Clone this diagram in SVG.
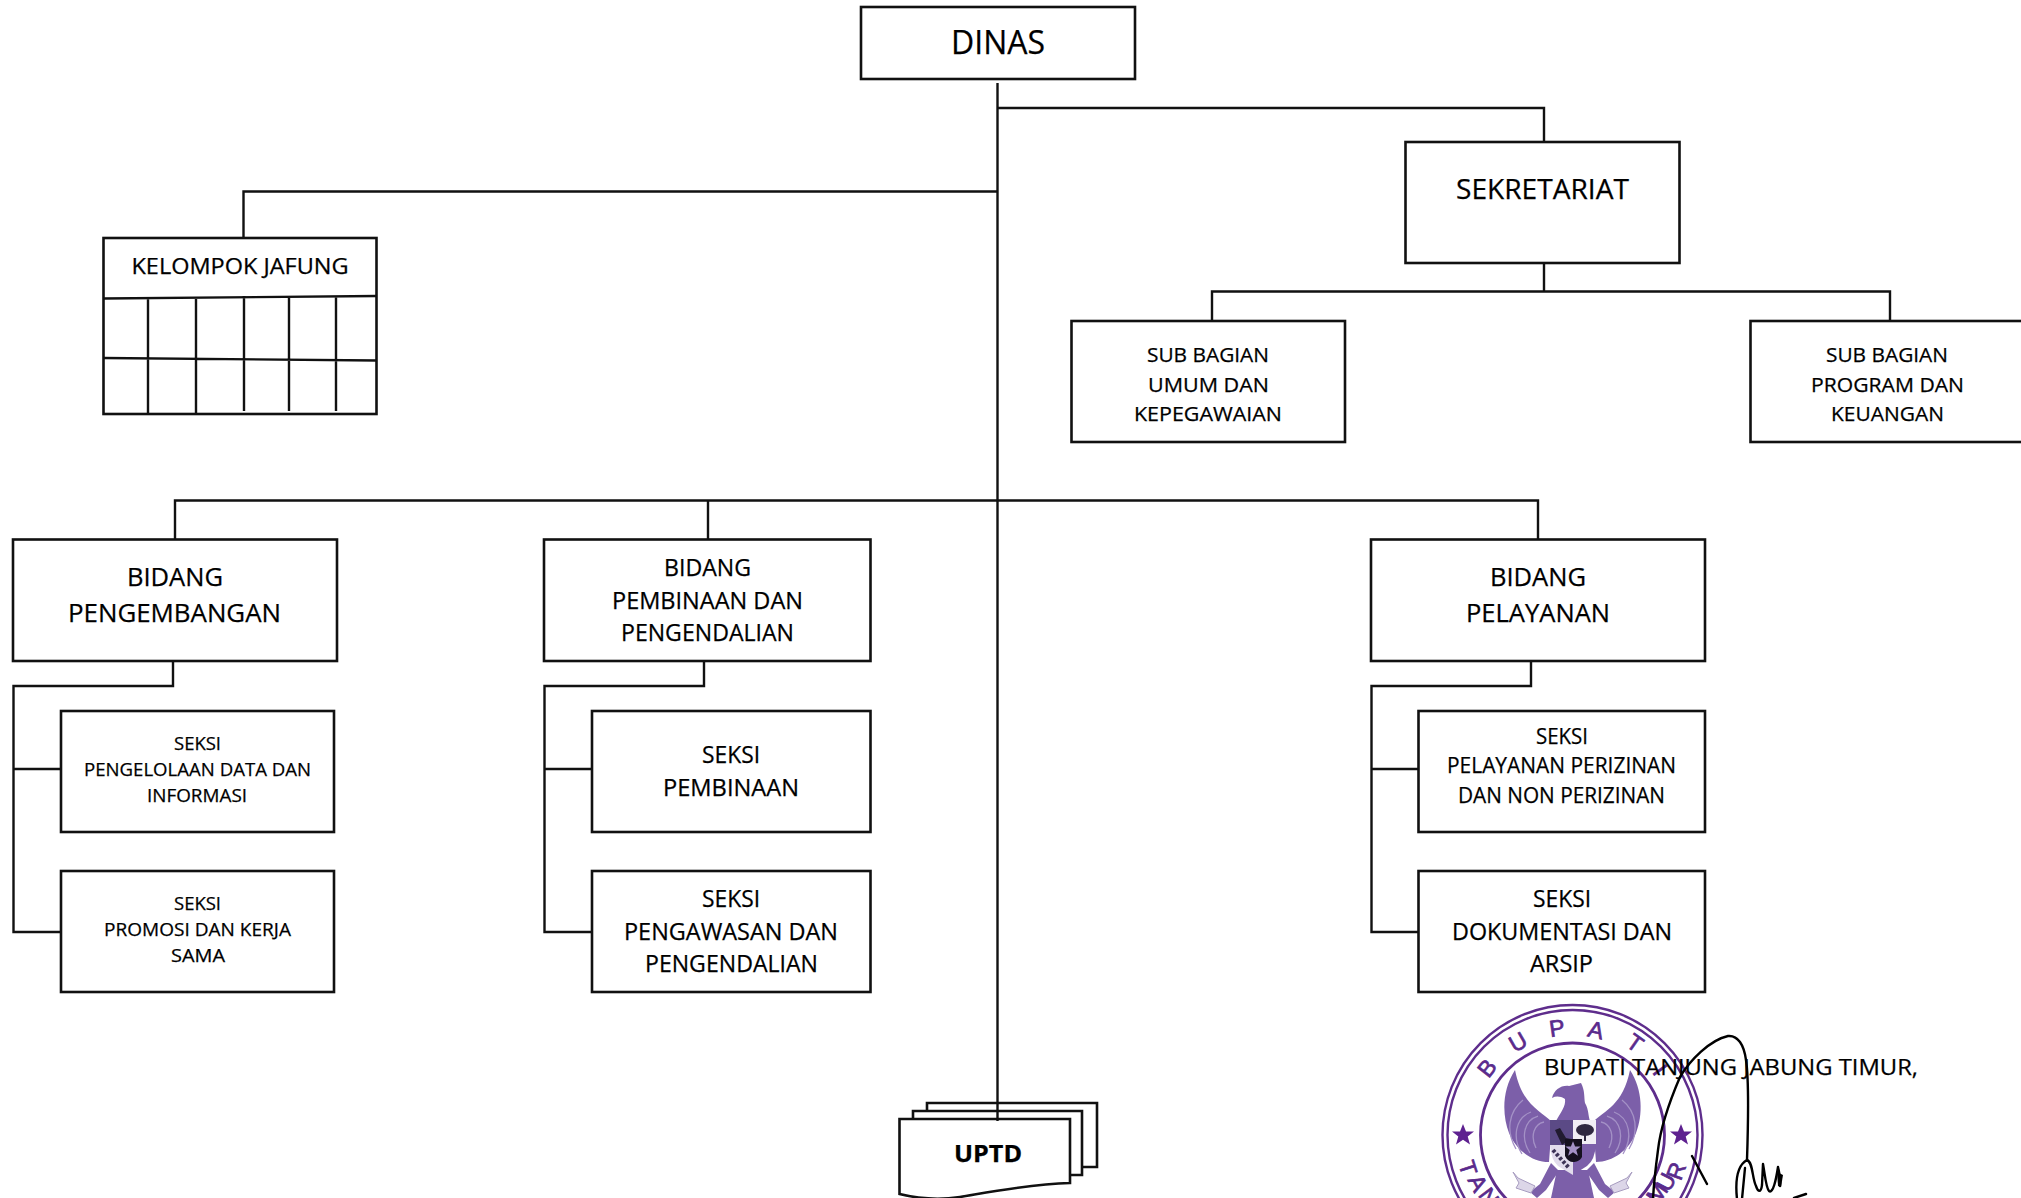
<svg xmlns="http://www.w3.org/2000/svg" width="2021" height="1198" viewBox="0 0 2021 1198">
<style>
.b{fill:#fff;stroke:#111;stroke-width:2.6}
.c{fill:none;stroke:#111;stroke-width:2.4}
text{font-family:"Open Sans","Noto Sans",sans-serif;fill:#000;stroke:#000;stroke-width:.25}
.s33{font-size:33px}.s28{font-size:28px}.s26{font-size:26px}.s24{font-size:24px}.s22{font-size:22px}.s20{font-size:20px}.s19{font-size:19px}
text.sl{font-family:"Liberation Sans",sans-serif;font-size:23px;fill:#5a2a8c;stroke:#5a2a8c;stroke-width:.7;text-anchor:middle}
.ring{fill:none;stroke:#5e2d8c}
.g{fill:#7c5fa9}
.f{fill:none;stroke:#a491c6;stroke-width:1.3}
.sg{fill:none;stroke:#000;stroke-width:2.4;stroke-linecap:round;stroke-linejoin:round}
</style>
<defs>
<polygon id="star" points="0,-11 3,-3.5 11,-3.5 4.7,1.6 7,9.5 0,4.8 -7,9.5 -4.7,1.6 -11,-3.5 -3,-3.5"/>
</defs>
<rect width="2021" height="1198" fill="#fff"/>

<g id="stamp">
<circle class="ring" cx="1572.5" cy="1135" r="130" stroke-width="2.4"/>
<circle class="ring" cx="1572.5" cy="1135" r="125" stroke-width="2.4"/>
<circle class="ring" cx="1572.5" cy="1135" r="92" stroke-width="2.8"/>
<text class="sl" transform="translate(1487,1068) rotate(-52)" y="8">B</text>
<text class="sl" transform="translate(1518,1042) rotate(-30)" y="8">U</text>
<text class="sl" transform="translate(1557,1028) rotate(-8)" y="8">P</text>
<text class="sl" transform="translate(1596,1030) rotate(13)" y="8">A</text>
<text class="sl" transform="translate(1635,1043) rotate(35)" y="8">T</text>
<text class="sl" transform="translate(1660,1070) rotate(54)" y="8">I</text>
<text class="sl" transform="translate(1468,1168) rotate(72)" y="8">T</text>
<text class="sl" transform="translate(1478,1183) rotate(62)" y="8">A</text>
<text class="sl" transform="translate(1489,1197) rotate(53)" y="8">N</text>
<text class="sl" transform="translate(1657,1193) rotate(-55)" y="8">M</text>
<text class="sl" transform="translate(1666,1182) rotate(-63)" y="8">U</text>
<text class="sl" transform="translate(1676,1171) rotate(-70)" y="8">R</text>
<use href="#star" x="1463" y="1135" fill="#5e2190"/>
<use href="#star" x="1681" y="1135" fill="#5e2190"/>
<path class="g" d="M1515,1070C1502,1090 1502,1115 1509,1133C1516,1150 1532,1162 1549,1162L1552,1122C1540,1110 1522,1105 1515,1070Z"/>
<path class="g" d="M1630,1070C1643,1090 1643,1115 1636,1133C1629,1150 1613,1162 1596,1162L1593,1122C1605,1110 1623,1105 1630,1070Z"/>
<path class="f" d="M1544,1122C1534,1124 1530,1136 1536,1148M1538,1116C1524,1120 1520,1138 1530,1153M1531,1112C1515,1118 1512,1138 1522,1154M1523,1100C1508,1112 1506,1132 1516,1149"/>
<path class="f" d="M1601,1122C1611,1124 1615,1136 1609,1148M1607,1116C1621,1120 1625,1138 1615,1153M1614,1112C1630,1118 1633,1138 1623,1154M1622,1100C1637,1112 1639,1132 1629,1149"/>
<path class="g" d="M1552,1098C1554,1090 1561,1085 1569,1086L1581,1083C1585,1090 1584,1098 1585,1103C1589,1110 1588,1116 1590,1121L1556,1121C1561,1112 1566,1106 1565,1099C1560,1096 1556,1096 1552,1098Z"/>
<path class="g" d="M1557,1170L1588,1170L1594,1198L1551,1198Z"/>
<path class="g" d="M1551,1163L1559,1171L1546,1190L1537,1198L1530,1192L1540,1184ZM1594,1163L1586,1171L1599,1190L1608,1198L1615,1192L1605,1184Z"/>
<path fill="#dcd6e8" stroke="#a79cc0" d="M1513,1172L1518,1178L1535,1186L1531,1193L1516,1188L1519,1183ZM1632,1172L1627,1178L1610,1186L1614,1193L1629,1188L1626,1183Z"/>
<rect x="1550" y="1120" width="23" height="25" fill="#5b4a86"/>
<rect x="1573" y="1120" width="23" height="24" fill="#f1eef5"/>
<path d="M1550,1145H1573V1175L1558,1166Q1551,1160 1550,1145Z" fill="#e2dcec"/>
<path d="M1573,1144H1596Q1595,1160 1587,1166L1573,1175Z" fill="#7c5fa9"/>
<path class="f" d="M1553,1150L1569,1168" stroke-dasharray="3 2" style="stroke:#3d3356;stroke-width:4"/>
<ellipse cx="1585" cy="1130" rx="9" ry="6" fill="#2f2840"/>
<rect x="1584" y="1130" width="2" height="11" fill="#2f2840"/>
<path d="M1555,1130L1560,1128L1566,1138L1571,1139L1562,1145Z" fill="#211b30"/>
<path d="M1565,1139H1582V1157C1580,1161 1576,1162 1573,1162C1570,1162 1567,1160 1565,1156Z" fill="#15101f"/>
<use href="#star" transform="translate(1573,1149) scale(.7)" fill="#a491c6"/>
</g>

<g id="connectors" class="c">
<path class="c" d="M997.500,83V1121"/>
<path class="c" d="M997.500,108H1544V142"/>
<path class="c" d="M997.500,191.500H243.500V238"/>
<path class="c" d="M1544,263V291.500M1212,321V291.500H1890V321"/>
<path class="c" d="M175,539V500.500H1538V539M708,500.500V539"/>
<path class="c" d="M173,661V686H13.500V932H61M13.500,769H61"/>
<path class="c" d="M704,661V686H544.500V932H592M544.500,769H592"/>
<path class="c" d="M1531,661V686H1371.500V932H1418M1371.500,769H1418"/>
</g>

<g id="dinas"><rect class="b" x="861" y="7" width="274" height="72"/><text class="s33" x="951" y="54" textLength="94" lengthAdjust="spacingAndGlyphs">DINAS</text></g>

<g id="sekretariat"><rect class="b" x="1405.500" y="142" width="274" height="121"/><text class="s28" x="1456" y="199" textLength="173" lengthAdjust="spacingAndGlyphs">SEKRETARIAT</text></g>

<g id="sub-umum"><rect class="b" x="1071.500" y="321" width="273.500" height="121"/>
<text class="s20" x="1147" y="362" textLength="122" lengthAdjust="spacingAndGlyphs">SUB BAGIAN</text>
<text class="s20" x="1148" y="392" textLength="121" lengthAdjust="spacingAndGlyphs">UMUM DAN</text>
<text class="s20" x="1134" y="421" textLength="148" lengthAdjust="spacingAndGlyphs">KEPEGAWAIAN</text></g>

<g id="sub-program"><rect class="b" x="1750.500" y="321" width="280" height="121"/>
<text class="s20" x="1826" y="362" textLength="122" lengthAdjust="spacingAndGlyphs">SUB BAGIAN</text>
<text class="s20" x="1811" y="392" textLength="153" lengthAdjust="spacingAndGlyphs">PROGRAM DAN</text>
<text class="s20" x="1831" y="421" textLength="113" lengthAdjust="spacingAndGlyphs">KEUANGAN</text></g>

<g id="kelompok-jafung"><rect class="b" x="103.500" y="238" width="273" height="176"/>
<text class="s22" x="131.500" y="274" textLength="217" lengthAdjust="spacingAndGlyphs">KELOMPOK JAFUNG</text>
<path class="c" d="M103.500,298.500L376.500,296M103.500,358L376.500,360.500M148,298V414M196,298V414M244,296V411M289,296V411M336,296V411"/></g>

<g id="bidang-pengembangan"><rect class="b" x="13" y="539.500" width="324" height="121.500"/>
<text class="s26" x="127" y="586" textLength="96" lengthAdjust="spacingAndGlyphs">BIDANG</text>
<text class="s26" x="68" y="622" textLength="213" lengthAdjust="spacingAndGlyphs">PENGEMBANGAN</text></g>

<g id="seksi-pengelolaan"><rect class="b" x="61" y="711" width="273" height="121"/>
<text class="s19" x="174" y="750" textLength="47" lengthAdjust="spacingAndGlyphs">SEKSI</text>
<text class="s19" x="84" y="776" textLength="227" lengthAdjust="spacingAndGlyphs">PENGELOLAAN DATA DAN</text>
<text class="s19" x="147" y="802" textLength="100" lengthAdjust="spacingAndGlyphs">INFORMASI</text></g>

<g id="seksi-promosi"><rect class="b" x="61" y="871" width="273" height="121"/>
<text class="s19" x="174" y="910" textLength="47" lengthAdjust="spacingAndGlyphs">SEKSI</text>
<text class="s19" x="104" y="936" textLength="187" lengthAdjust="spacingAndGlyphs">PROMOSI DAN KERJA</text>
<text class="s19" x="171" y="962" textLength="54" lengthAdjust="spacingAndGlyphs">SAMA</text></g>

<g id="bidang-pembinaan"><rect class="b" x="544" y="539.500" width="326.500" height="121.500"/>
<text class="s24" x="664" y="576" textLength="87" lengthAdjust="spacingAndGlyphs">BIDANG</text>
<text class="s24" x="612" y="609" textLength="191" lengthAdjust="spacingAndGlyphs">PEMBINAAN DAN</text>
<text class="s24" x="621" y="641" textLength="173" lengthAdjust="spacingAndGlyphs">PENGENDALIAN</text></g>

<g id="seksi-pembinaan"><rect class="b" x="592" y="711" width="278.500" height="121"/>
<text class="s24" x="702" y="763" textLength="58" lengthAdjust="spacingAndGlyphs">SEKSI</text>
<text class="s24" x="663" y="796" textLength="136" lengthAdjust="spacingAndGlyphs">PEMBINAAN</text></g>

<g id="seksi-pengawasan"><rect class="b" x="592" y="871" width="278.500" height="121"/>
<text class="s24" x="702" y="907" textLength="58" lengthAdjust="spacingAndGlyphs">SEKSI</text>
<text class="s24" x="624" y="940" textLength="214" lengthAdjust="spacingAndGlyphs">PENGAWASAN DAN</text>
<text class="s24" x="645" y="972" textLength="173" lengthAdjust="spacingAndGlyphs">PENGENDALIAN</text></g>

<g id="bidang-pelayanan"><rect class="b" x="1371" y="539.500" width="334" height="121.500"/>
<text class="s26" x="1490" y="586" textLength="96" lengthAdjust="spacingAndGlyphs">BIDANG</text>
<text class="s26" x="1466" y="622" textLength="144" lengthAdjust="spacingAndGlyphs">PELAYANAN</text></g>

<g id="seksi-perizinan"><rect class="b" x="1418.500" y="711" width="286.500" height="121"/>
<text class="s22" x="1536" y="744" textLength="52" lengthAdjust="spacingAndGlyphs">SEKSI</text>
<text class="s22" x="1447" y="773" textLength="229" lengthAdjust="spacingAndGlyphs">PELAYANAN PERIZINAN</text>
<text class="s22" x="1458" y="803" textLength="207" lengthAdjust="spacingAndGlyphs">DAN NON PERIZINAN</text></g>

<g id="seksi-dokumentasi"><rect class="b" x="1418.500" y="871" width="286.500" height="121"/>
<text class="s24" x="1533" y="907" textLength="58" lengthAdjust="spacingAndGlyphs">SEKSI</text>
<text class="s24" x="1452" y="940" textLength="220" lengthAdjust="spacingAndGlyphs">DOKUMENTASI DAN</text>
<text class="s24" x="1530" y="972" textLength="63" lengthAdjust="spacingAndGlyphs">ARSIP</text></g>

<g id="uptd">
<path class="b" d="M927,1103H1097V1167H927Z"/>
<path class="b" d="M913,1111H1082V1175H913Z"/>
<path class="b" d="M899.500,1119H1070V1183C1030,1184 990,1192 960,1197C940,1200 920,1199 899.500,1194Z"/>
<path class="c" d="M997.500,1103V1121"/>
<text class="s24" x="954" y="1162" font-weight="700" textLength="68" lengthAdjust="spacingAndGlyphs">UPTD</text>
</g>

<g id="signature">
<path class="sg" d="M1653,1199C1654,1180 1656,1165 1658,1150C1660,1132 1668,1105 1680,1077C1690,1060 1710,1040 1728,1036C1738,1035 1744,1045 1746,1060C1749,1080 1748,1130 1747,1160"/>
<path class="sg" d="M1737,1199C1735,1180 1738,1165 1747,1160C1753,1162 1752,1178 1756,1186C1758,1192 1761,1193 1762,1185L1763,1164C1765,1175 1766,1188 1769,1191C1773,1194 1776,1180 1778,1167C1779,1172 1781,1178 1780,1186"/>
<path class="sg" d="M1742,1199L1745,1168M1692,1156L1707,1184M1794,1198L1806,1194"/>
<path d="M1777,1172L1783,1175L1781,1187L1778,1186Z" fill="#000"/>
</g>

<g id="bupati-label"><text class="s22" x="1544" y="1075" textLength="374" lengthAdjust="spacingAndGlyphs">BUPATI TANJUNG JABUNG TIMUR,</text></g>
</svg>
